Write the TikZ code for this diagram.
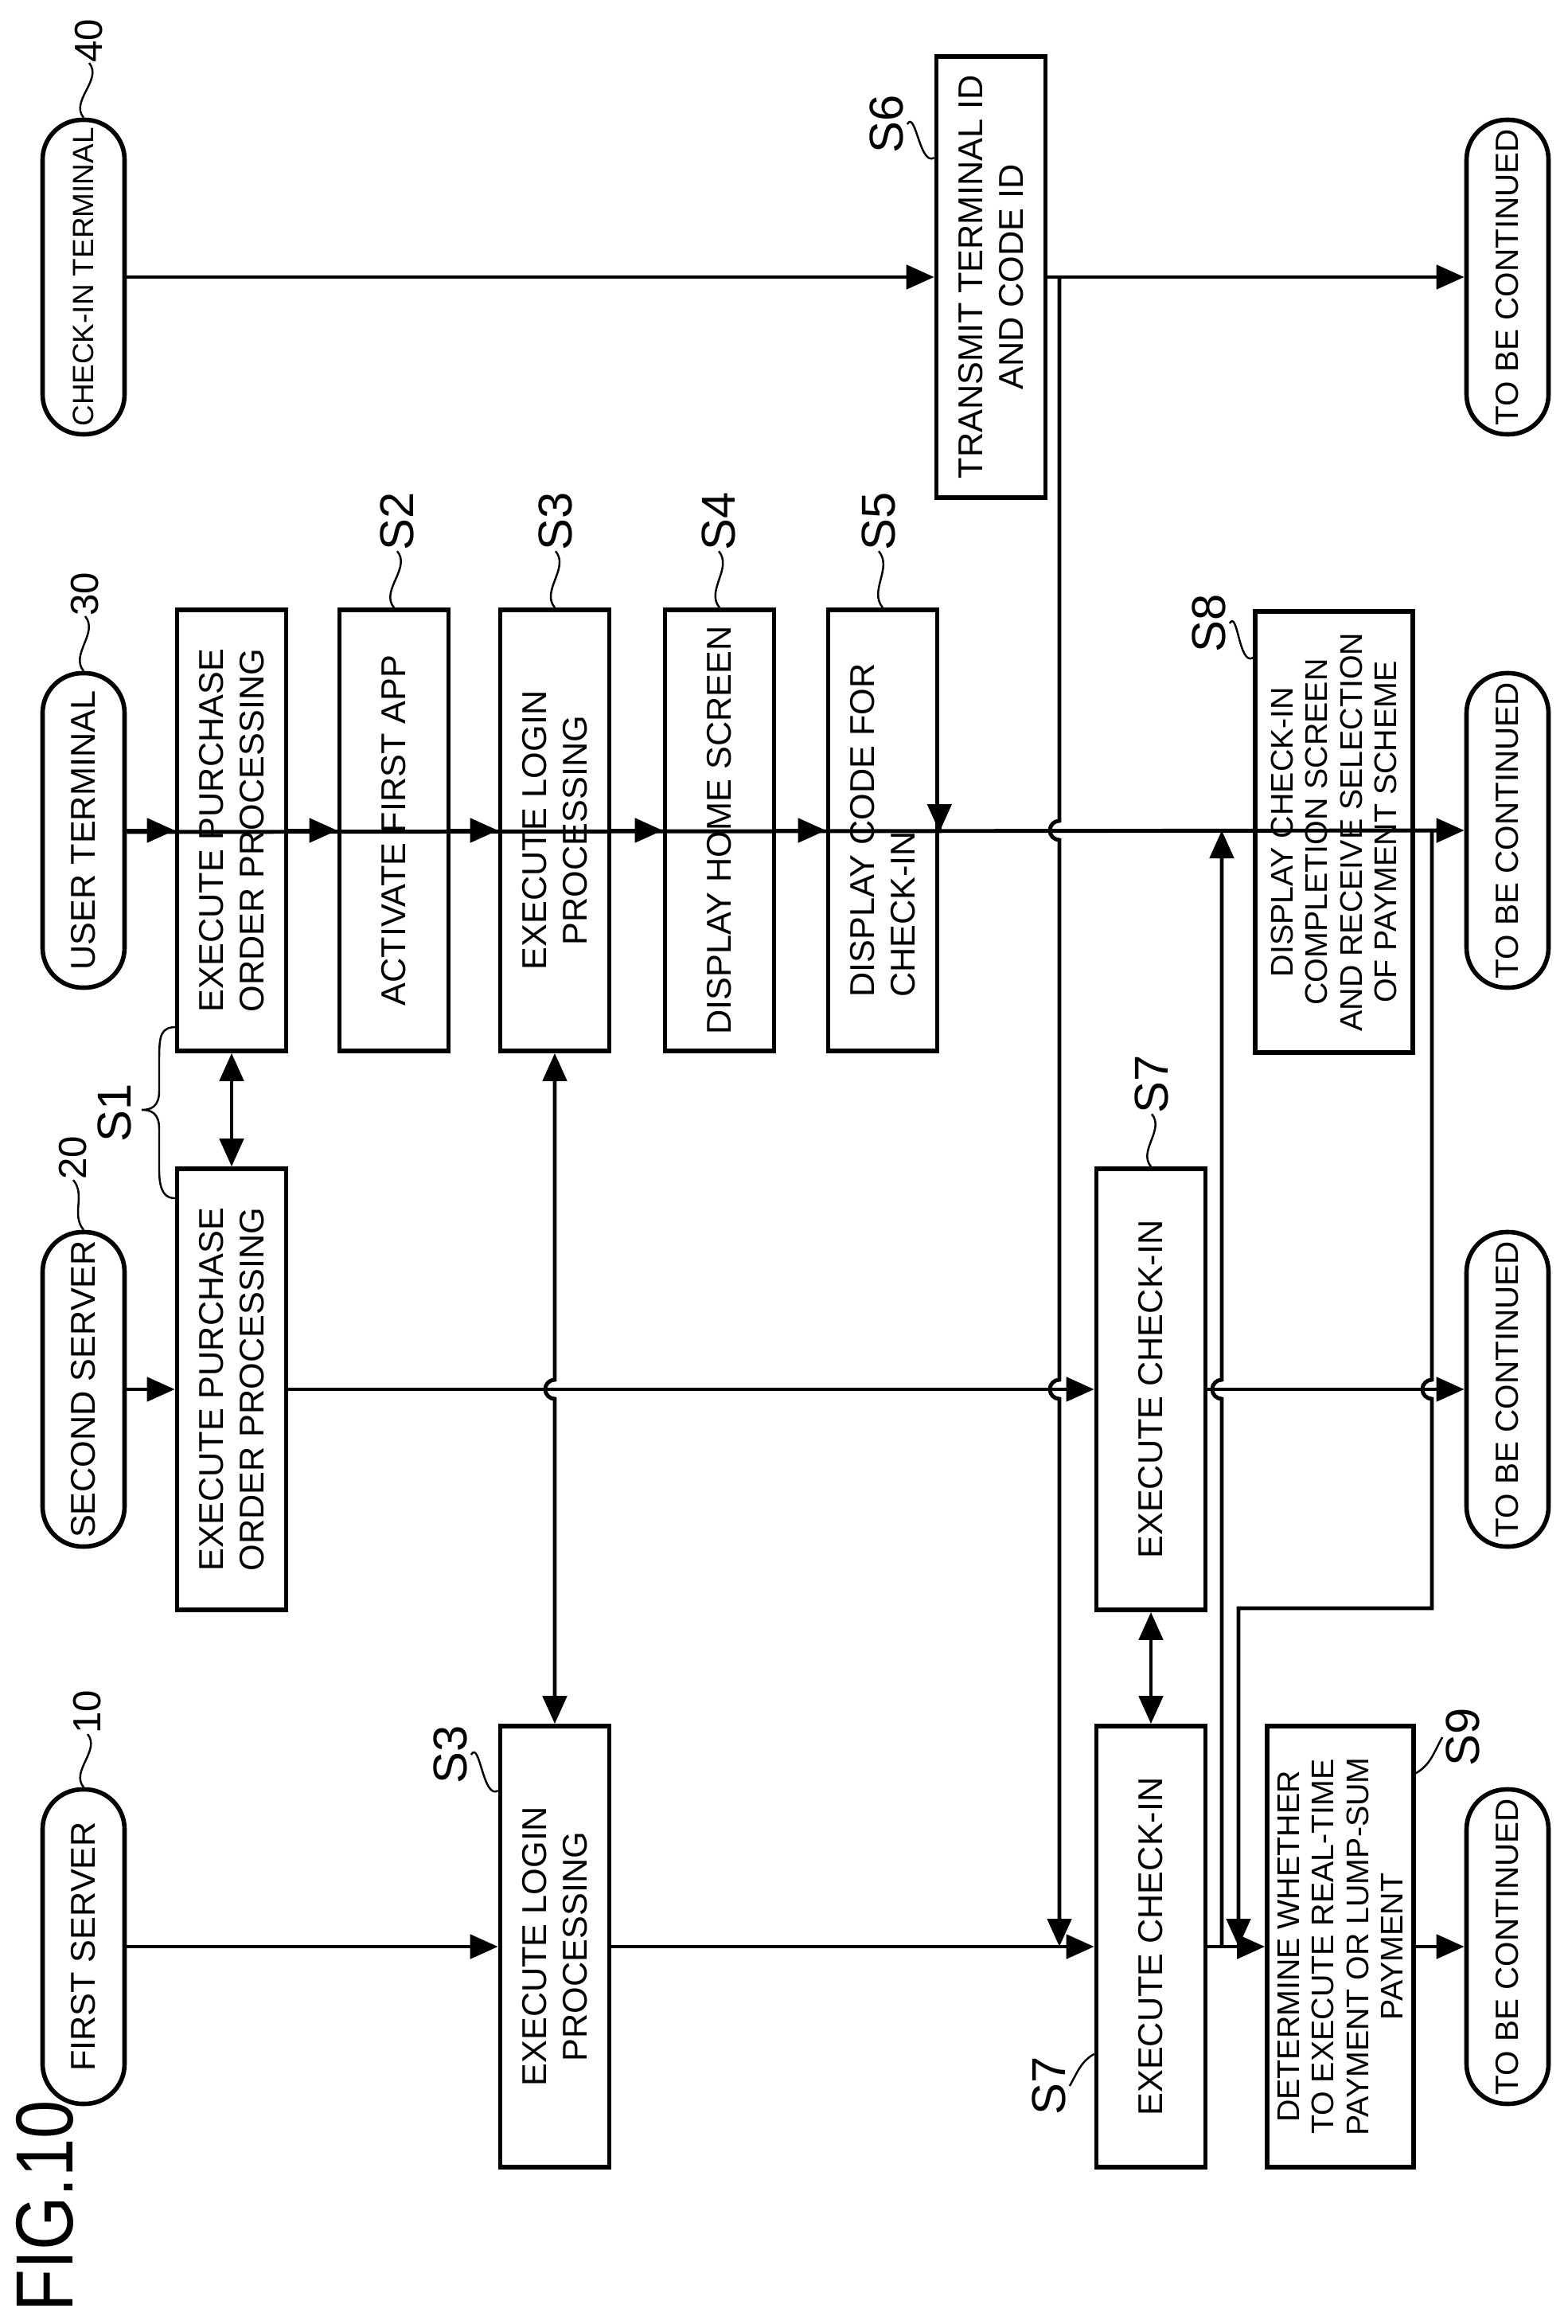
\documentclass[tikz,border=0pt]{standalone}
\usepackage{fontspec}
\setmainfont{Liberation Sans}
\usepackage{tikz}
\usetikzlibrary{arrows.meta, calc}
\newcommand{\boxfont}{\fontsize{12.3}{14.5}\selectfont}
\newcommand{\smallboxfont}{\fontsize{11.2}{12.4}\selectfont}
\newcommand{\stepfont}{\fontsize{17}{17}\selectfont}
\newcommand{\numfont}{\fontsize{14}{14}\selectfont}
\tikzstyle{box} = [rectangle, draw=black, line width=1.6pt, minimum width=5.54cm, minimum height=1.37cm, align=center, font=\boxfont, inner sep=2pt]
\tikzstyle{term} = [rectangle, rounded corners=5mm, draw=black, line width=1.6pt, minimum width=3.95cm, minimum height=1.03cm, inner sep=0pt, font=\boxfont]
\tikzstyle{arrow} = [line width=1.4pt, -{Triangle[length=3.5mm,width=3mm]}]
\tikzstyle{darrow} = [line width=1.4pt, {Triangle[length=3.5mm,width=3mm]}-{Triangle[length=3.5mm,width=3mm]}]
\tikzstyle{line} = [line width=1.4pt]
\tikzstyle{lead} = [line width=0.7pt]
\tikzstyle{steplabel} = [font=\stepfont, inner sep=0pt]
\tikzstyle{num} = [font=\numfont, inner sep=0pt]

\begin{document}
\begin{tikzpicture}[x=0.1mm, y=0.1mm, rotate=90, transform shape]
\useasboundingbox (-2919,-1969) rectangle (0,0);

% lane heads
\node (ct) [term, font=\fontsize{10.5}{12}\selectfont] at (-348,-105) {CHECK-IN TERMINAL};
\node (ut) [term] at (-1043,-105) {USER TERMINAL};
\node (ss) [term] at (-1745,-105) {SECOND SERVER};
\node (fs) [term] at (-2445,-105) {FIRST SERVER};

% steps
\node (s1u) [box] at (-1043,-291) {EXECUTE PURCHASE\\ORDER PROCESSING};
\node (s1s) [box] at (-1745,-291) {EXECUTE PURCHASE\\ORDER PROCESSING};
\node (s2) [box] at (-1043,-495) {ACTIVATE FIRST APP};
\node (s3u) [box] at (-1043,-697) {EXECUTE LOGIN\\PROCESSING};
\node (s3f) [box] at (-2445,-697) {EXECUTE LOGIN\\PROCESSING};
\node (s4) [box] at (-1043,-904) {DISPLAY HOME SCREEN};
\node (s5) [box, align=left] at (-1043,-1109) {DISPLAY CODE FOR\\CHECK-IN};
\node (s6) [box] at (-348,-1245) {TRANSMIT TERMINAL ID\\AND CODE ID};
\node (s7s) [box] at (-1745,-1446) {EXECUTE CHECK-IN};
\node (s7f) [box] at (-2445,-1446) {EXECUTE CHECK-IN};
\node (s8) [box, minimum height=1.98cm, font=\smallboxfont] at (-1045,-1676) {DISPLAY CHECK-IN\\COMPLETION SCREEN\\AND RECEIVE SELECTION\\OF PAYMENT SCHEME};
\node (s9) [box, minimum height=1.84cm, font=\smallboxfont] at (-2445,-1684) {DETERMINE WHETHER\\TO EXECUTE REAL-TIME\\PAYMENT OR LUMP-SUM\\PAYMENT};

% lane ends
\node (tbc4) [term, font=\fontsize{11.5}{13}\selectfont] at (-348,-1894) {TO BE CONTINUED};
\node (tbc3) [term, font=\fontsize{11.5}{13}\selectfont] at (-1043,-1894) {TO BE CONTINUED};
\node (tbc2) [term, font=\fontsize{11.5}{13}\selectfont] at (-1745,-1894) {TO BE CONTINUED};
\node (tbc1) [term, font=\fontsize{11.5}{13}\selectfont] at (-2445,-1894) {TO BE CONTINUED};

% labels
\node (fig) [font=\fontsize{29}{29}\selectfont, xscale=0.85, inner sep=0pt] at (-2771,-56) {FIG.10};
\node (l40) [num] at (-51,-112) {40};
\node (l30) [num] at (-746,-107) {30};
\node (l20) [num] at (-1454,-92) {20};
\node (l10) [num] at (-2150,-110) {10};
\node (lS1) [steplabel] at (-1398,-144) {S1};
\node (lS2) [steplabel] at (-655,-499) {S2};
\node (lS3u) [steplabel] at (-655,-698) {S3};
\node (lS4) [steplabel] at (-655,-903) {S4};
\node (lS5) [steplabel] at (-655,-1104) {S5};
\node (lS6) [steplabel] at (-156,-1114) {S6};
\node (lS7s) [steplabel] at (-1362,-1447) {S7};
\node (lS7f) [steplabel] at (-2620,-1318) {S7};
\node (lS3f) [steplabel] at (-2204,-566) {S3};
\node (lS8) [steplabel] at (-783,-1519) {S8};
\node (lS9) [steplabel] at (-2182,-1838) {S9};

\draw [lead] (ct.east) to[out=40,in=220] (l40.west);
\draw [lead] (ut.east) to[out=40,in=220] (l30.west);
\draw [lead] (ss.east) to[out=40,in=220] (l20.west);
\draw [lead] (fs.east) to[out=40,in=220] (l10.west);
\draw [lead] (s2.east) to[out=40,in=220] (lS2.west);
\draw [lead] (s3u.east) to[out=40,in=220] (lS3u.west);
\draw [lead] (s4.east) to[out=40,in=220] (lS4.west);
\draw [lead] (s5.east) to[out=40,in=220] (lS5.west);
\draw [lead] (s7s.east) to[out=40,in=220] (lS7s.west);
\draw [lead] ($(s6.north east)+(-130,0)$) to[out=120,in=-30] ($(lS6.south)+(0,-4)$);
\draw [lead] ($(s8.north east)+(-61,0)$) to[out=120,in=-30] ($(lS8.south)+(0,-4)$);
\draw [lead] ($(s7f.north west)+(145,0)$) to[out=120,in=-30] ($(lS7f.south)+(0,-4)$);
\draw [lead] ($(s3f.north east)+(-84,0)$) to[out=120,in=-30] ($(lS3f.south)+(0,-4)$);
\draw [lead] ($(s9.south east)+(-62,0)$) to[out=-60,in=150] ($(lS9.north)+(0,4)$);
\draw [lead] (-1290,-222) .. controls (-1290,-202) and (-1300,-200) .. (-1330,-200)
  -- (-1370,-200) .. controls (-1390,-200) and (-1394,-190) .. (-1394,-178)
  .. controls (-1394,-190) and (-1398,-200) .. (-1418,-200)
  -- (-1470,-200) .. controls (-1500,-200) and (-1505,-210) .. (-1505,-220);

% junctions
\coordinate (j6) at (-348,-1331);
\coordinate (j7) at (-2445,-1535);
\coordinate (j7e) at (-1043,-1535);
\coordinate (j8) at (-1043,-1799);
\coordinate (j9) at (-2445,-1556);
\coordinate (j6e) at (-2445,-1331);

% check-in terminal lane
\draw [arrow] (ct.south) -- (s6.north);
\draw [arrow] (s6.south) -- (tbc4.north);
% user terminal lane
\draw [arrow] (ut.south) -- (s1u.north);
\draw [arrow] (s1u.south) -- (s2.north);
\draw [arrow] (s2.south) -- (s3u.north);
\draw [arrow] (s3u.south) -- (s4.north);
\draw [arrow] (s4.south) -- (s5.north);
\draw [arrow] (s5.south) -- (s8.north |- s5.south);
\draw [arrow] (s8.south |- ut.south) -- (tbc3.north);
% second server lane
\draw [arrow] (ss.south) -- (s1s.north);
\draw [arrow] (s1s.south) -- (s7s.north);
\draw [arrow] (s7s.south) -- (tbc2.north);
% first server lane
\draw [arrow] (fs.south) -- (s3f.north);
\draw [arrow] (s3f.south) -- (s7f.north);
\draw [arrow] (s7f.south) -- (s9.north);
\draw [arrow] (s9.south) -- (tbc1.north);

% cross connections
\draw [darrow] (s1u.west) -- (s1s.east);
\draw [darrow] (s3u.west) -- (-1733,-697) arc[start angle=0, end angle=180, radius=1.2mm] -- (s3f.east);
\draw [darrow] (s7s.west) -- (s7f.east);
\draw [arrow] (j6) -- (-1031,-1331) arc[start angle=0, end angle=180, radius=1.2mm]
  -- (-1733,-1331) arc[start angle=0, end angle=180, radius=1.2mm] -- (j6e);
\draw [arrow] (j7) -- (-1757,-1535) arc[start angle=180, end angle=0, radius=1.2mm] -- (j7e);
\draw [arrow] (j8) -- (-1733,-1799) arc[start angle=0, end angle=180, radius=1.2mm]
  -- (-2020,-1799) -- (-2020,-1556) -- (j9);

\end{tikzpicture}
\end{document}
